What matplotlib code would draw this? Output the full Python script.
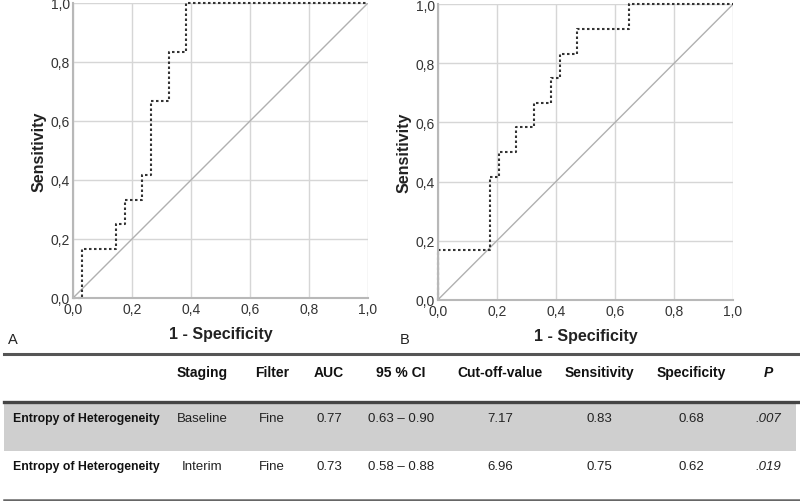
import matplotlib
matplotlib.use("Agg")
import matplotlib.pyplot as plt
from matplotlib.lines import Line2D
from matplotlib.patches import Rectangle

# ---- ROC data (step corner points, drawn with steps-post) ----
fpr_A = [0.0, 0.029, 0.147, 0.176, 0.235, 0.265, 0.324, 0.382, 1.0]
tpr_A = [0.0, 0.167, 0.250, 0.333, 0.417, 0.667, 0.833, 1.000, 1.0]

fpr_B = [0.0, 0.0, 0.176, 0.206, 0.265, 0.324, 0.382, 0.412, 0.471, 0.647, 1.0]
tpr_B = [0.0, 0.167, 0.417, 0.500, 0.583, 0.667, 0.750, 0.833, 0.917, 1.000, 1.0]

ticks = [0.0, 0.2, 0.4, 0.6, 0.8, 1.0]
tick_labels = ["0,0", "0,2", "0,4", "0,6", "0,8", "1,0"]
panel_labels = ["A", "B"]
x_label = "1 - Specificity"
y_label = "Sensitivity"

# ---- Table data ----
col_headers = ["", "Staging", "Filter", "AUC", "95 % CI", "Cut-off-value",
               "Sensitivity", "Specificity", "P"]
row_names = ["Entropy of Heterogeneity", "Entropy of Heterogeneity"]
staging = ["Baseline", "Interim"]
filters = ["Fine", "Fine"]
auc = ["0.77", "0.73"]
ci = ["0.63 \u2013 0.90", "0.58 \u2013 0.88"]
cutoff = ["7.17", "6.96"]
sens = ["0.83", "0.75"]
spec = ["0.68", "0.62"]
pvals = [".007", ".019"]

W, H = 800, 502
fig = plt.figure(figsize=(W / 100, H / 100), dpi=100)
fig.patch.set_facecolor("white")

sans = ["Liberation Sans", "DejaVu Sans"]


def fx(px):
    return px / W


def fy(py):
    return 1 - py / H


def make_roc(rect, fpr, tpr):
    ax = fig.add_axes(rect)
    ax.set_xlim(0, 1)
    ax.set_ylim(0, 1)
    ax.set_xticks(ticks)
    ax.set_yticks(ticks)
    ax.set_xticklabels(tick_labels, family=sans, fontsize=10, color="#333333")
    ax.set_yticklabels(tick_labels, family=sans, fontsize=10, color="#333333")
    ax.tick_params(length=0, pad=2)
    ax.tick_params(axis="x", pad=3)
    ax.grid(True, color="#d6d6d6", lw=1)
    ax.set_axisbelow(True)
    for s in ["top", "right"]:
        ax.spines[s].set_visible(False)
    for s in ["left", "bottom"]:
        ax.spines[s].set_color("#b8b8b8")
        ax.spines[s].set_linewidth(1.5)
    ax.plot([0, 1], [0, 1], color="#b0b0b0", lw=1.0)
    ax.plot(fpr, tpr, drawstyle="steps-post", color="#333333", lw=1.5,
            linestyle=(0, (1.2, 1.2)), clip_on=False)
    ax.set_ylabel(y_label, family=sans, fontsize=11.5, fontweight="bold",
                  color="#222222", labelpad=3)
    ax.set_xlabel(x_label, family=sans, fontsize=11.5, fontweight="bold",
                  color="#222222", labelpad=7)
    return ax


axA = make_roc([fx(73), fy(299), fx(295), 295 / H], fpr_A, tpr_A)
axB = make_roc([fx(438), fy(300.7), fx(295), 295.4 / H], fpr_B, tpr_B)

fig.text(fx(8), fy(340), panel_labels[0], family=sans, fontsize=10.5,
         color="#222222", va="center", ha="left")
fig.text(fx(400), fy(340), panel_labels[1], family=sans, fontsize=10.5,
         color="#222222", va="center", ha="left")

# ---- Table ----
fig.patches.append(Rectangle((fx(4), fy(452)), fx(796) - fx(4), fy(403) - fy(452),
                             transform=fig.transFigure, facecolor="#cfcfcf",
                             edgecolor="none", zorder=0))
for y, lw, c in [(355, 2.2, "#555555"), (403, 2.4, "#444444"), (501, 1.8, "#666666")]:
    fig.lines.append(Line2D([fx(4), fx(800)], [fy(y), fy(y)], transform=fig.transFigure,
                            color=c, lw=lw))

col_x = [13, 202, 272, 329, 401, 500, 599, 691, 768]
header_y = 373
row_y = [419, 467]

for i, h in enumerate(col_headers):
    if not h:
        continue
    fig.text(fx(col_x[i]), fy(header_y), h, family=sans, fontsize=10,
             fontweight="bold", style="italic" if h == "P" else "normal",
             color="#111111", ha="center", va="center")

columns = [staging, filters, auc, ci, cutoff, sens, spec, pvals]
for r in range(len(row_names)):
    fig.text(fx(col_x[0]), fy(row_y[r]), row_names[r], family=sans, fontsize=8.8,
             fontweight="bold", color="#111111", ha="left", va="center")
    for j, col in enumerate(columns):
        fig.text(fx(col_x[j + 1]), fy(row_y[r]), col[r], family=sans, fontsize=9.5,
                 style="italic" if j == len(columns) - 1 else "normal",
                 color="#222222", ha="center", va="center")

fig.savefig("out.png", dpi=100)
